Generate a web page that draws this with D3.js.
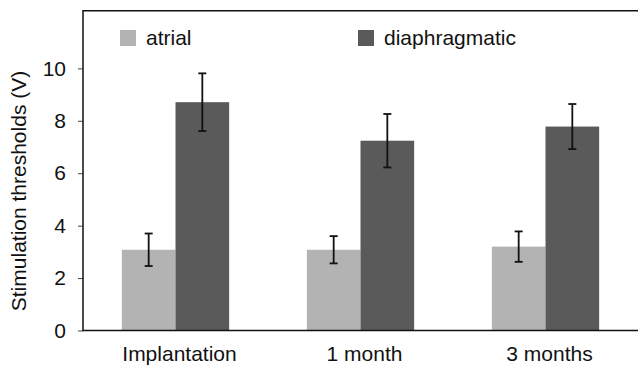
<!DOCTYPE html>
<html>
<head>
<meta charset="utf-8">
<script src="https://cdn.jsdelivr.net/npm/d3@7"></script>
<style>
  body { margin: 0; background: #fff; }
  svg text { font-family: "Liberation Sans", Arial, sans-serif; fill: #111; }
</style>
</head>
<body>
<svg id="svg" width="638" height="366"></svg>
<script>
// chart data
let categories = ["Implantation", "1 month", "3 months"];
let series = ["atrial", "diaphragmatic"];
let atrial = [3.08, 3.08, 3.2];
let atrialErr = [0.62, 0.52, 0.58];
let diaphragmatic = [8.71, 7.24, 7.78];
let diaphragmaticErr = [1.1, 1.02, 0.86];
let yTicks = [0, 2, 4, 6, 8, 10];

let colors = { atrial: "#b3b3b3", diaphragmatic: "#5a5a5a" };

let svg = d3.select("#svg");
let width = +svg.attr("width");
let plotLeft = 83, plotTop = 10.7, plotBottom = 330.5, plotRight = width;

let rows = categories.map((c, i) => ({
  cat: c,
  values: [
    { key: "atrial", v: atrial[i], e: atrialErr[i] },
    { key: "diaphragmatic", v: diaphragmatic[i], e: diaphragmaticErr[i] },
  ],
}));

let x = d3.scaleBand().domain(categories).range([plotLeft, plotRight])
  .paddingInner(0.42).paddingOuter(0.21);
let x1 = d3.scaleBand().domain(series).range([0, x.bandwidth()]);
let y = d3.scaleLinear().domain([0, 12.2]).range([plotBottom, plotTop]);

// bars
let groups = svg.selectAll("g.grp")
  .data(rows)
  .enter()
  .append("g")
  .attr("class", "grp")
  .attr("transform", (d) => `translate(${x(d.cat)},0)`);

groups.selectAll("rect")
  .data((d) => d.values)
  .enter()
  .append("rect")
  .attr("x", (d) => x1(d.key))
  .attr("y", (d) => y(d.v))
  .attr("width", x1.bandwidth())
  .attr("height", (d) => y(0) - y(d.v))
  .style("fill", (d) => colors[d.key]);

// error bars
let eb = groups.selectAll("g.err")
  .data((d) => d.values)
  .enter()
  .append("g")
  .attr("class", "err")
  .style("stroke", "#111")
  .style("stroke-width", 1.8);
let cx = (d) => x1(d.key) + x1.bandwidth() / 2;
eb.append("line")
  .attr("x1", cx).attr("x2", cx)
  .attr("y1", (d) => y(d.v + d.e)).attr("y2", (d) => y(d.v - d.e));
eb.append("line")
  .attr("x1", (d) => cx(d) - 4).attr("x2", (d) => cx(d) + 4)
  .attr("y1", (d) => y(d.v + d.e)).attr("y2", (d) => y(d.v + d.e));
eb.append("line")
  .attr("x1", (d) => cx(d) - 4).attr("x2", (d) => cx(d) + 4)
  .attr("y1", (d) => y(d.v - d.e)).attr("y2", (d) => y(d.v - d.e));

// y axis
let yAxis = svg.append("g")
  .attr("transform", `translate(${plotLeft},0)`)
  .call(d3.axisLeft(y).tickValues(yTicks).tickSize(5).tickSizeOuter(0).tickPadding(12));
yAxis.select(".domain").remove();
yAxis.selectAll("text").style("font-size", "21px");
yAxis.selectAll("line").style("stroke", "#444");

// frame: left, top and bottom lines
svg.append("path")
  .attr("d", `M${plotRight},${plotTop}H${plotLeft}V${plotBottom}H${plotRight}`)
  .style("fill", "none")
  .style("stroke", "#111")
  .style("stroke-width", 1.5);

// x labels
svg.selectAll("text.xlab")
  .data(categories)
  .enter()
  .append("text")
  .attr("class", "xlab")
  .attr("x", (d) => x(d) + x.bandwidth() / 2 + 4)
  .attr("y", 361)
  .attr("text-anchor", "middle")
  .style("font-size", "21px")
  .text((d) => d);

// y title
svg.append("text")
  .attr("transform", "translate(26,191) rotate(-90)")
  .attr("text-anchor", "middle")
  .style("font-size", "21px")
  .text("Stimulation thresholds (V)");

// legend
let legendX = [120, 358];
let leg = svg.selectAll("g.leg")
  .data(series)
  .enter()
  .append("g")
  .attr("class", "leg")
  .attr("transform", (d, i) => `translate(${legendX[i]},30)`);
leg.append("rect")
  .attr("width", 16).attr("height", 16)
  .style("fill", (d) => colors[d]);
leg.append("text")
  .attr("x", 26).attr("y", 15)
  .style("font-size", "21px")
  .text((d) => d);
</script>
</body>
</html>
